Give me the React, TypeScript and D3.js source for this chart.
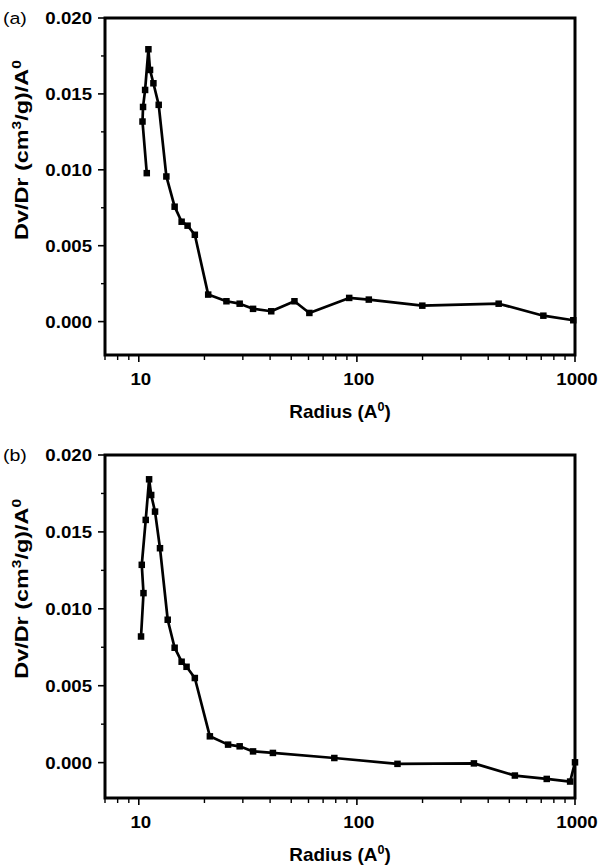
import React from "react";
import * as d3 from "d3";

// Panel (a) data: radius (Å) and Dv/Dr
const radiusA = [10.88, 10.40, 10.46, 10.69, 11.07, 11.26, 11.67, 12.34, 13.38, 14.60, 15.72, 16.74, 18.07, 20.81, 25.23, 29.01, 33.41, 40.48, 51.73, 60.54, 92.2, 113.4, 199.5, 446.7, 716, 982];
const dvdrA = [0.00978, 0.01318, 0.01414, 0.01526, 0.01794, 0.01658, 0.01570, 0.01428, 0.00956, 0.00757, 0.00658, 0.00632, 0.00572, 0.00178, 0.00134, 0.00118, 0.00084, 0.00068, 0.00134, 0.00057, 0.00156, 0.00145, 0.00105, 0.00118, 0.00039, 0.00009];

// Panel (b) data
const radiusB = [10.24, 10.51, 10.32, 10.76, 11.15, 11.4, 11.87, 12.51, 13.57, 14.6, 15.72, 16.56, 18.07, 21.18, 25.67, 29.01, 33.41, 41.2, 78.8, 153.5, 344, 530, 742, 950, 1000];
const dvdrB = [0.0082, 0.01102, 0.01286, 0.01578, 0.01842, 0.0174, 0.01632, 0.01394, 0.00929, 0.00747, 0.00656, 0.00623, 0.0055, 0.00171, 0.00117, 0.00106, 0.00073, 0.00063, 0.0003, -0.00008, -0.00005, -0.00084, -0.00106, -0.00123, 0.00002];

const yTicks = [0, 0.005, 0.01, 0.015, 0.02];
const yMinor = [0.0025, 0.0075, 0.0125, 0.0175];
const xMajor = [10, 100, 1000];
const xMinor = [7, 8, 9, 20, 30, 40, 50, 60, 70, 80, 90, 200, 300, 400, 500, 600, 700, 800, 900];

const FONT = "'Liberation Sans', Arial, sans-serif";

interface PanelProps {
  label: string;
  xs: number[];
  ys: number[];
  top: number;
  bottom: number;
  yMin: number;
}

function Panel({ label, xs, ys, top, bottom, yMin }: PanelProps) {
  const left = 105;
  const right = 575;
  const x = d3.scaleLog().domain([7, 1000]).range([left, right]);
  const y = d3.scaleLinear().domain([yMin, 0.02]).range([bottom, top]);
  const pts: [number, number][] = xs.map((r, i) => [x(r), y(ys[i])]);
  const line = d3.line()(pts) || "";
  const ms = 6.5;
  const titleY = y(0.0113);
  return (
    <g>
      <path d={line} fill="none" stroke="#000" strokeWidth={2.7} strokeLinejoin="round" />
      {pts.map((p, i) => (
        <rect key={i} x={p[0] - ms / 2} y={p[1] - ms / 2} width={ms} height={ms} fill="#000" />
      ))}
      <rect x={left} y={top} width={right - left} height={bottom - top} fill="none" stroke="#000" strokeWidth={3} />
      {yTicks.map((t) => (
        <g key={t}>
          <line x1={left - 7} x2={left + 1} y1={y(t)} y2={y(t)} stroke="#000" strokeWidth={1.6} />
          <text
            transform={`translate(92,${y(t)}) scale(1.13,1)`}
            dy="0.36em"
            textAnchor="end"
            fontFamily={FONT}
            fontWeight="bold"
            fontSize={16.5}
          >
            {d3.format(".3f")(t)}
          </text>
        </g>
      ))}
      {yMinor.map((t) => (
        <line key={t} x1={left - 4} x2={left} y1={y(t)} y2={y(t)} stroke="#000" strokeWidth={1.4} />
      ))}
      {xMajor.map((t) => (
        <g key={t}>
          <line x1={x(t)} x2={x(t)} y1={bottom} y2={bottom + 7} stroke="#000" strokeWidth={1.6} />
          <text
            transform={`translate(${x(t) + 2},${bottom + 24}) scale(1.13,1)`}
            dy="0.36em"
            textAnchor="middle"
            fontFamily={FONT}
            fontWeight="bold"
            fontSize={16.5}
          >
            {String(t)}
          </text>
        </g>
      ))}
      {xMinor.map((t) => (
        <line key={t} x1={x(t)} x2={x(t)} y1={bottom} y2={bottom + 5} stroke="#000" strokeWidth={1.4} />
      ))}
      <text transform={`translate(3,${top}) scale(1.15,1)`} dy="0.36em" fontFamily={FONT} fontSize={17}>
        {label}
      </text>
      <text
        transform={`translate(340,${bottom + 57}) scale(1.05,1)`}
        dy="0.36em"
        textAnchor="middle"
        fontFamily={FONT}
        fontWeight="bold"
        fontSize={18}
      >
        Radius (A<tspan dy={-7} fontSize={12}>0</tspan><tspan dy={7}>)</tspan>
      </text>
      <text
        transform={`translate(28,${titleY}) rotate(-90) scale(1.3,1)`}
        textAnchor="middle"
        fontFamily={FONT}
        fontWeight="bold"
        fontSize={18}
      >
        Dv/Dr (cm<tspan dy={-7} fontSize={12}>3</tspan>
        <tspan dy={7}>/g)/A</tspan>
        <tspan dy={-7} fontSize={12}>0</tspan>
      </text>
    </g>
  );
}

export default function App() {
  return (
    <svg width={598} height={867} style={{ position: "absolute", left: 0, top: 0, background: "#fff" }}>
      <rect width={598} height={867} fill="#fff" />
      <Panel label="(a)" xs={radiusA} ys={dvdrA} top={18} bottom={355} yMin={-0.0022} />
      <Panel label="(b)" xs={radiusB} ys={dvdrB} top={455} bottom={798} yMin={-0.0023} />
    </svg>
  );
}
